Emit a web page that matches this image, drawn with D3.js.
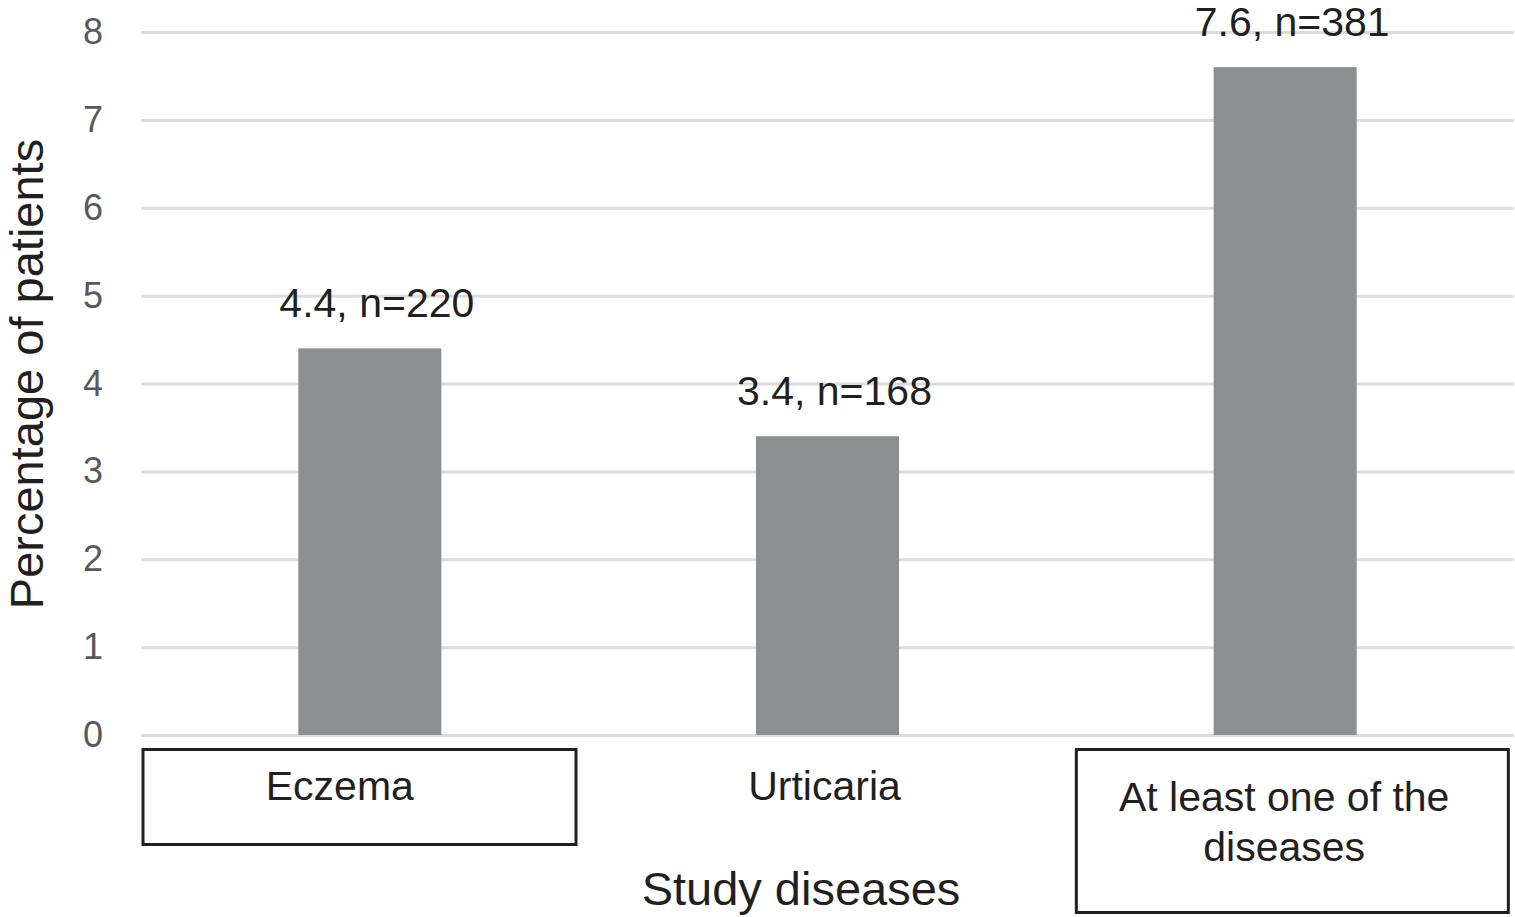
<!DOCTYPE html>
<html>
<head>
<meta charset="utf-8">
<script src="https://cdn.jsdelivr.net/npm/d3@7"></script>
<style>
  html, body { margin: 0; padding: 0; background: #fff; }
  svg { display: block; font-family: "Liberation Sans", Arial, sans-serif; }
</style>
</head>
<body>
<div id="chart"></div>
<script>
// Data
const categories = ["Eczema", "Urticaria", "At least one of the diseases"];
const percentages = [4.4, 3.4, 7.6];
const counts = [220, 168, 381];
const yTicks = [0, 1, 2, 3, 4, 5, 6, 7, 8];

// Category label lines (the long one wraps)
const labelLines = [["Eczema"], ["Urticaria"], ["At least one of the", "diseases"]];

const width = 1515, height = 917;
const margin = { top: 32, right: 1, bottom: 182, left: 141 };
const plotW = width - margin.left - margin.right,
    plotH = height - margin.top - margin.bottom;

const svg = d3.select("#chart")
    .append("svg")
    .attr("width", width)
    .attr("height", height);

const g = svg.append("g")
    .attr("transform", `translate(${margin.left},${margin.top})`);

// Scales
const x = d3.scaleBand()
    .domain(categories)
    .range([0, plotW])
    .paddingInner(0.6875)
    .paddingOuter(0.34375);

const y = d3.scaleLinear()
    .domain([0, 8])
    .range([plotH, 0]);

// Gridlines + tick labels
const yAxis = g.append("g")
    .call(d3.axisLeft(y).tickValues(yTicks).tickSize(-plotW).tickPadding(38).tickFormat(d3.format("d")));
yAxis.select(".domain").remove();
yAxis.selectAll(".tick line")
    .attr("stroke", "#dcdcdc")
    .attr("stroke-width", 3);
yAxis.selectAll(".tick text")
    .attr("fill", "#595959")
    .style("font-size", "36px")
    .style("font-family", "\"Liberation Sans\", Arial, sans-serif");

// Bars
g.selectAll(".bar")
    .data(categories)
    .enter()
    .append("rect")
    .attr("class", "bar")
    .attr("x", d => x(d))
    .attr("y", (d, i) => y(percentages[i]))
    .attr("width", x.bandwidth())
    .attr("height", (d, i) => plotH - y(percentages[i]))
    .attr("fill", "#8d8e90");

// Value labels
g.selectAll(".label")
    .data(categories)
    .enter()
    .append("text")
    .attr("class", "label")
    .attr("x", d => x(d) + x.bandwidth() / 2 + 7)
    .attr("y", (d, i) => y(percentages[i]) - 31)
    .attr("text-anchor", "middle")
    .attr("fill", "#231f20")
    .style("font-size", "41px")
    .text((d, i) => `${percentages[i]}, n=${counts[i]}`);

// Boxed category annotations
const step = x.step();
const boxes = [
    { i: 0, dx: 2, w: 433, h: 95 },
    { i: 2, dx: 20, w: 432, h: 163 }
];
g.selectAll(".box")
    .data(boxes)
    .enter()
    .append("rect")
    .attr("class", "box")
    .attr("x", d => d.i * step + d.dx)
    .attr("y", plotH + 14.5)
    .attr("width", d => d.w)
    .attr("height", d => d.h)
    .attr("fill", "none")
    .attr("stroke", "#231f20")
    .attr("stroke-width", 3);

// Category labels
const labelShift = [-30, -3, -1];
const catText = g.selectAll(".cat")
    .data(categories)
    .enter()
    .append("text")
    .attr("class", "cat")
    .attr("x", (d, i) => x(d) + x.bandwidth() / 2 + labelShift[i])
    .attr("y", (d, i) => plotH + (labelLines[i].length > 1 ? 76 : 65))
    .attr("text-anchor", "middle")
    .attr("fill", "#231f20")
    .style("font-size", "41px");
catText.each(function(d, i) {
    const t = d3.select(this);
    const cx = t.attr("x");
    labelLines[i].forEach((line, k) => {
        t.append("tspan")
            .attr("x", cx)
            .attr("dy", k === 0 ? 0 : 50)
            .text(line);
    });
});

// Axis titles
svg.append("text")
    .attr("x", 801)
    .attr("y", 905)
    .attr("text-anchor", "middle")
    .attr("fill", "#231f20")
    .style("font-size", "47px")
    .text("Study diseases");

svg.append("text")
    .attr("transform", "translate(43,374) rotate(-90)")
    .attr("text-anchor", "middle")
    .attr("fill", "#231f20")
    .style("font-size", "47px")
    .text("Percentage of patients");
</script>
</body>
</html>
